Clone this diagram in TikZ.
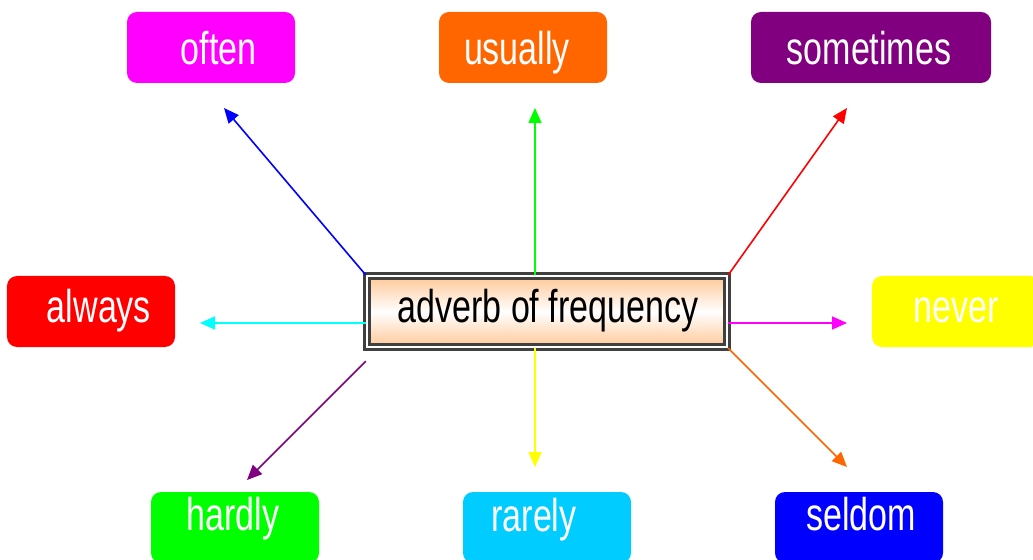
\documentclass[tikz,border=0pt]{standalone}
\usepackage{fontspec}
\setmainfont[FakeStretch=0.74]{Liberation Sans}
\usetikzlibrary{arrows.meta,calc}
\definecolor{cMag}{HTML}{FF00FF}
\definecolor{cOra}{HTML}{FF6600}
\definecolor{cPur}{HTML}{800080}
\definecolor{cRed}{HTML}{FF0000}
\definecolor{cYel}{HTML}{FFFF00}
\definecolor{cGre}{HTML}{00FF00}
\definecolor{cSky}{HTML}{00CCFF}
\definecolor{cBlu}{HTML}{0000FF}
\definecolor{cCya}{HTML}{00FFFF}
\definecolor{peach}{HTML}{FFC896}
\definecolor{border}{HTML}{404040}
\tikzset{
  wbox/.style={rectangle, rounded corners=10bp, minimum width=168bp, minimum height=71bp, inner sep=0pt, draw=none},
  wlbl/.style={anchor=base, text=white, inner sep=0pt, font=\fontsize{46bp}{50bp}\selectfont},
  conn/.style={line width=1.6bp, -{Triangle[length=15bp,width=13bp]}},
}
\begin{document}
\begin{tikzpicture}[x=1bp,y=-1bp]
\useasboundingbox (0,0) rectangle (1033,560);
\fill[white] (0,0) rectangle (1033,560);
% centre
\node[rectangle, minimum width=360bp, minimum height=70.75bp, inner sep=0pt,
      draw=border, line width=2.5bp, double=white, double distance=2.5bp,
      top color=peach, bottom color=peach, middle color=white] (c) at (547,311.6) {};
\node[anchor=base, inner sep=0pt, font=\fontsize{46bp}{50bp}\selectfont] (ct) at (548,323) {adverb of frequency};
% boxes
\node[wbox, fill=cMag] (often) at (211,47.5) {};
\node[wlbl] (often-t) at (218.5,65) {often};
\node[wbox, fill=cOra] (usually) at (523,47.5) {};
\node[wlbl] (usually-t) at (517,65) {usually};
\node[wbox, fill=cPur, minimum width=240bp] (sometimes) at (871,47.5) {};
\node[wlbl] (sometimes-t) at (869,65) {sometimes};
\node[wbox, fill=cRed] (always) at (91,311.5) {};
\node[wlbl] (always-t) at (99,323) {always};
\node[wbox, fill=cYel] (never) at (956,311.5) {};
\node[wlbl] (never-t) at (956,323) {never};
\node[wbox, fill=cGre] (hardly) at (235,527.5) {};
\node[wlbl] (hardly-t) at (233,530) {hardly};
\node[wbox, fill=cSky] (rarely) at (547,527.5) {};
\node[wlbl] (rarely-t) at (534,531) {rarely};
\node[wbox, fill=cBlu] (seldom) at (859,527.5) {};
\node[wlbl] (seldom-t) at (861,530) {seldom};
% arrow ends
\coordinate (tB) at (224,108);
\coordinate (tG) at (535,108);
\coordinate (tR) at (847,108);
\coordinate (tC) at (200,323);
\coordinate (tM) at (847,323);
\coordinate (tP) at (247,480);
\coordinate (tY) at (535,467);
\coordinate (tO) at (847,467);
\draw[conn, cBlu] (c.north west) -- (tB);
\draw[conn, cGre] (c.north -| tG) -- (tG);
\draw[conn, cRed] (c.north east) -- (tR);
\draw[conn, cCya] (c.west |- tC) -- (tC);
\draw[conn, cMag] (c.east |- tM) -- (tM);
\draw[conn, cPur] ($(c.south west)+(0,13)$) -- (tP);
\draw[conn, cYel] (c.south -| tY) -- (tY);
\draw[conn, cOra] (c.south east) -- (tO);
\end{tikzpicture}
\end{document}
